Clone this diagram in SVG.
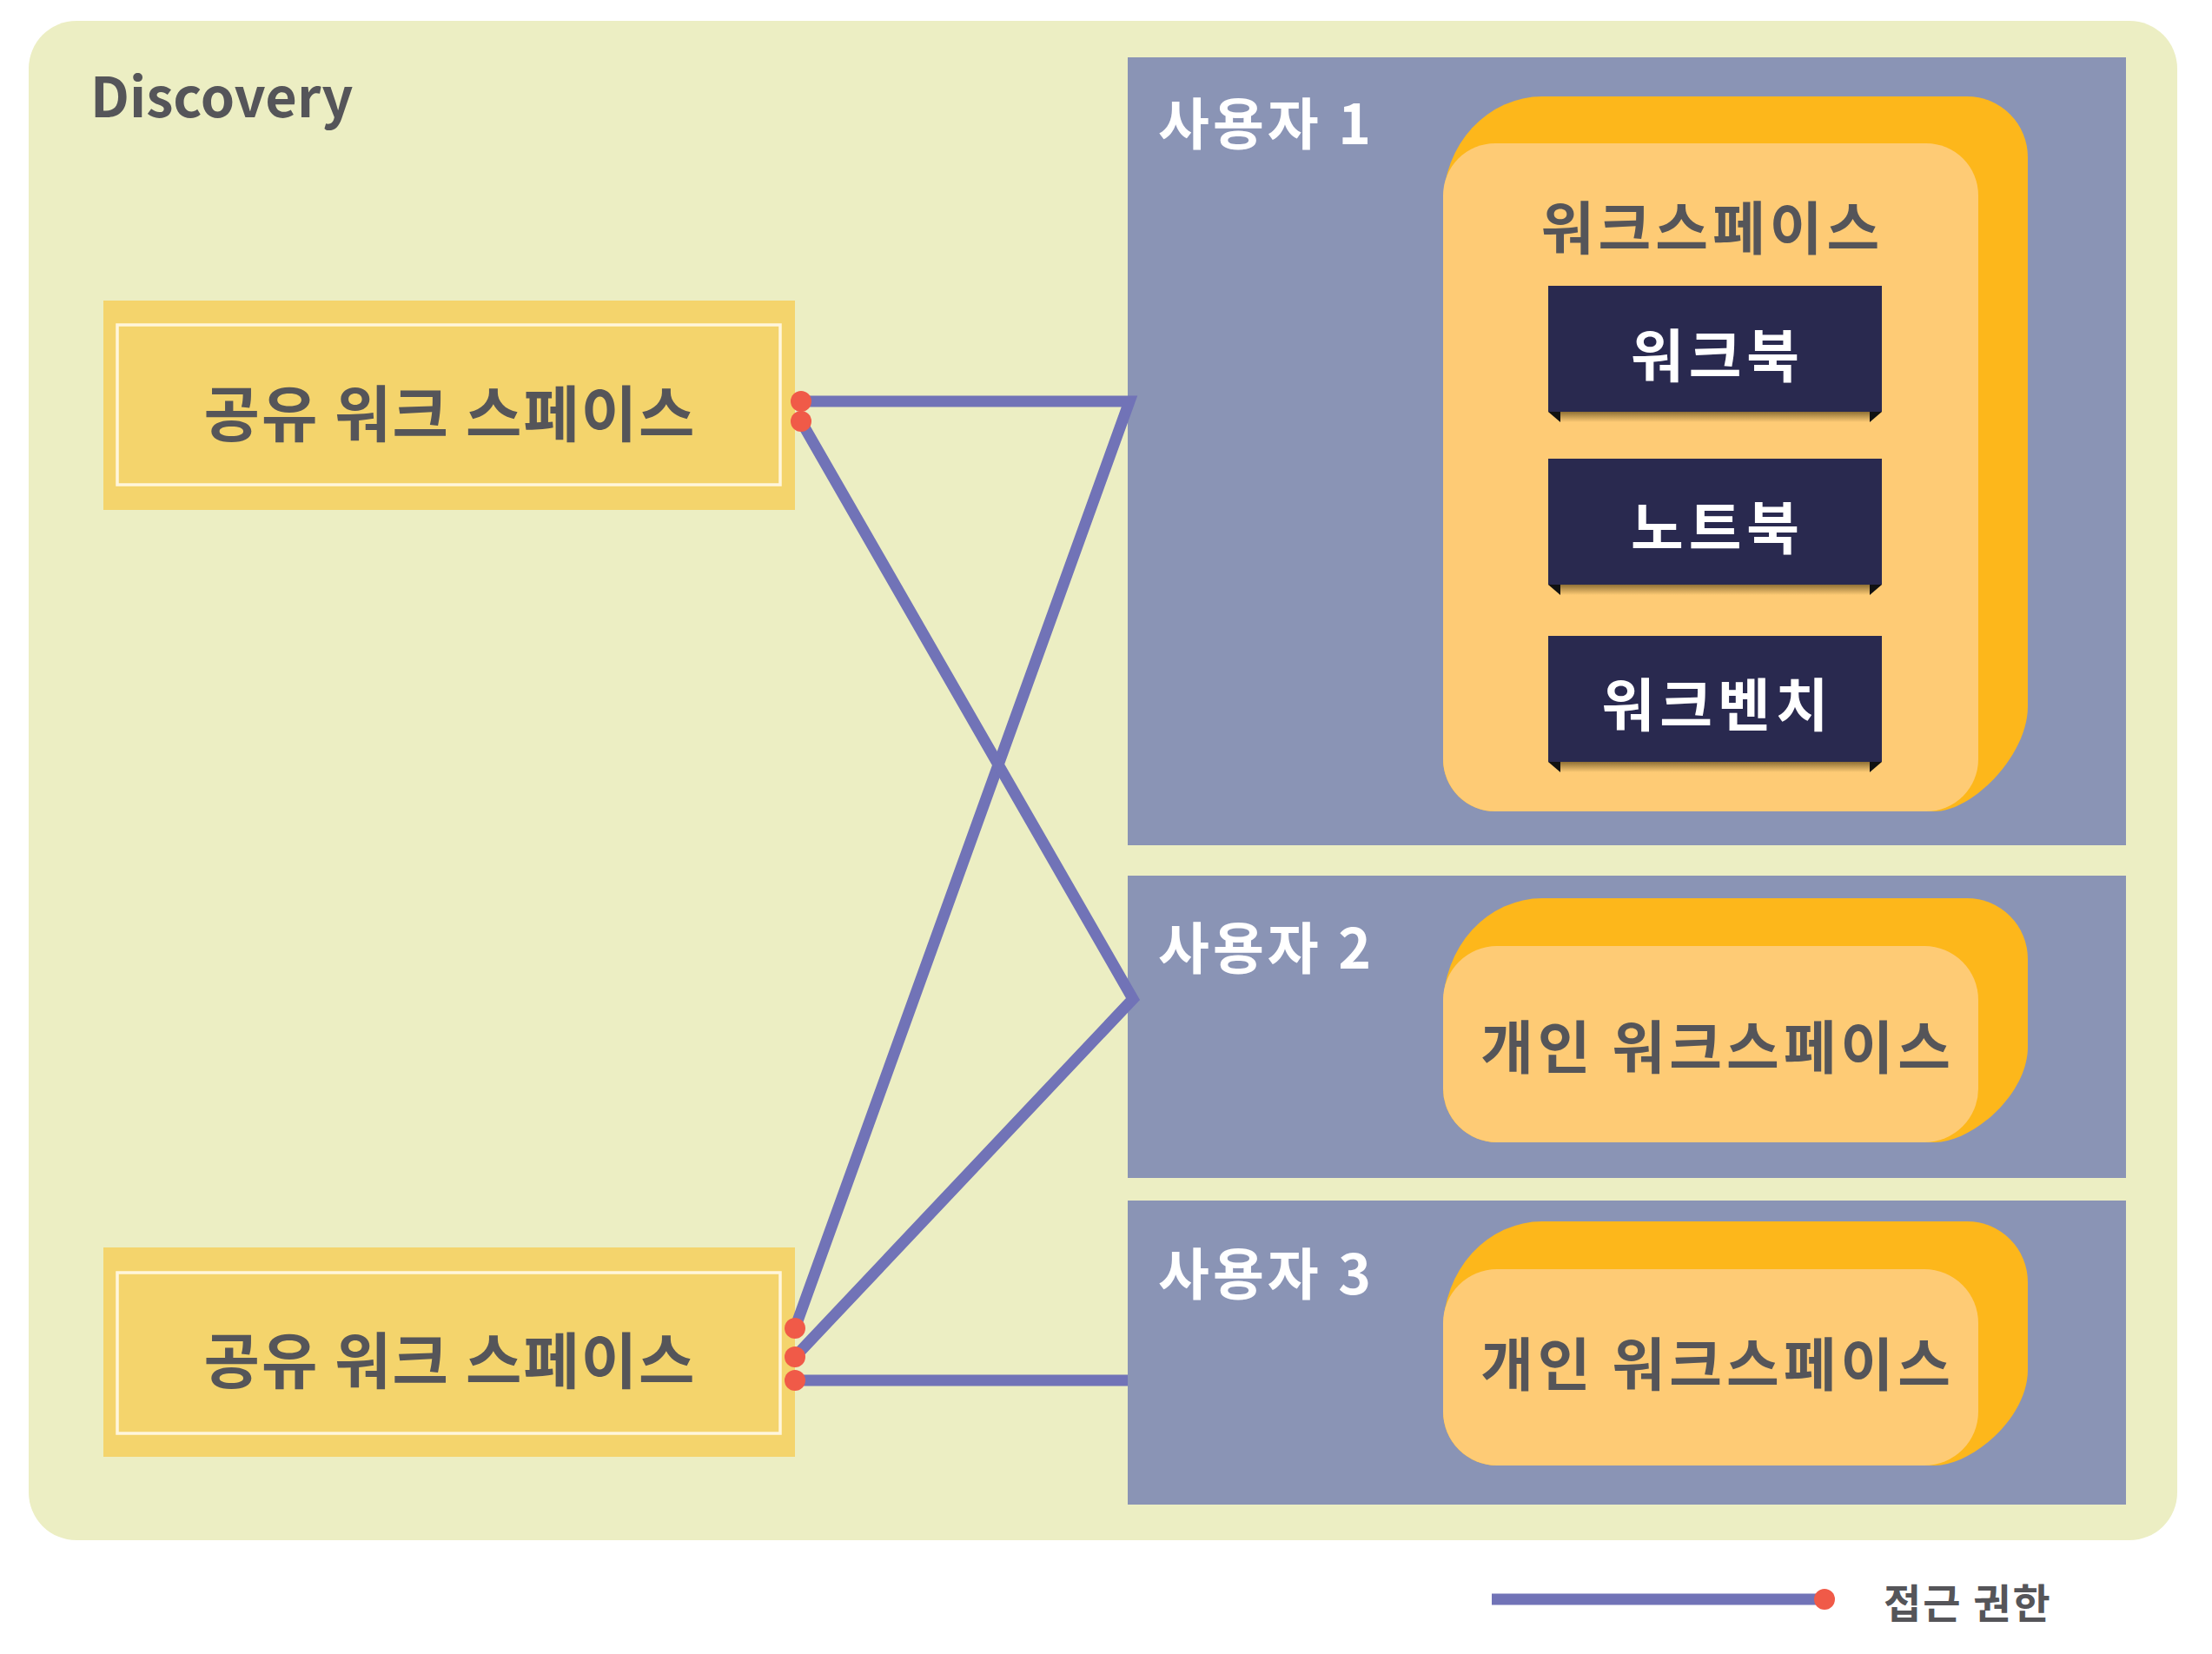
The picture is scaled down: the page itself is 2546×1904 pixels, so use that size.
<svg xmlns="http://www.w3.org/2000/svg" width="2546" height="1904" viewBox="0 0 2546 1904">
<defs>
<linearGradient id="shadow" x1="0" y1="0" x2="0" y2="1">
<stop offset="0" stop-color="#6b5220" stop-opacity="0.75"/>
<stop offset="1" stop-color="#6b5220" stop-opacity="0"/>
</linearGradient>
</defs>
<style>
text{font-family:"Noto Sans CJK KR","Noto Sans",sans-serif;font-weight:700}
.frame{fill:#ECEEC3}
.shared{fill:#F4D46C}
.sharedIn{fill:none;stroke:#FFF6DC;stroke-width:3.5}
.user{fill:#8A94B5}
.back{fill:#FDB71B}
.front{fill:#FECB75}
.dark{fill:#29294F}
.tri{fill:#111111}
.gray{fill:#555559}
.white{fill:#FFFFFF}
.line{fill:none;stroke:#7173B7;stroke-width:13;stroke-linejoin:miter}
.dot{fill:#F05A48}
.st{font-size:70px;letter-spacing:2px}
.ut{font-size:64px;letter-spacing:4px}
.wt{font-size:66px;letter-spacing:6px}
.pt{font-size:66px;letter-spacing:5px}
</style>
<rect width="2546" height="1904" fill="#FFFFFF"/>
<g id="discovery">
<rect class="frame" x="33" y="24" width="2473" height="1749" rx="55"/>
<text class="gray" x="104" y="135" font-size="63">Discovery</text>
</g>
<g id="shared1">
<rect class="shared" x="119" y="346" width="796" height="241"/>
<rect class="sharedIn" x="135" y="374" width="763" height="184"/>
<text class="gray st" x="518" y="503" text-anchor="middle">공유 워크 스페이스</text>
</g>
<g id="shared2">
<rect class="shared" x="119" y="1436" width="796" height="241"/>
<rect class="sharedIn" x="135" y="1465" width="763" height="185"/>
<text class="gray st" x="518" y="1593" text-anchor="middle">공유 워크 스페이스</text>
</g>
<g id="user1">
<rect class="user" x="1298" y="66" width="1149" height="907"/>
<text class="white ut" x="1333" y="166">사용자 1</text>
</g>
<g id="workspace1">
<path class="back" d="M1661,235 A114,124 0 0 1 1775,111 L2264,111 A70,70 0 0 1 2334,181 L2334,813 C2334,870 2270,934 2227,934 L1721,934 A60,60 0 0 1 1661,874 Z"/>
<rect class="front" x="1661" y="165" width="616" height="769" rx="60"/>
<text class="gray" x="1971" y="287" font-size="66" letter-spacing="5" text-anchor="middle">워크스페이스</text>
</g>
<g id="workbook">
<rect x="1796" y="474" width="356" height="12" fill="url(#shadow)"/>
<polygon class="tri" points="1782,474 1796,474 1796,486"/>
<polygon class="tri" points="2166,474 2152,474 2152,486"/>
<rect class="dark" x="1782" y="329" width="384" height="145"/>
<text class="white wt" x="1977" y="434" text-anchor="middle">워크북</text>
</g>
<g id="notebook">
<rect x="1796" y="673" width="356" height="12" fill="url(#shadow)"/>
<polygon class="tri" points="1782,673 1796,673 1796,685"/>
<polygon class="tri" points="2166,673 2152,673 2152,685"/>
<rect class="dark" x="1782" y="528" width="384" height="145"/>
<text class="white wt" x="1977" y="632" text-anchor="middle">노트북</text>
</g>
<g id="workbench">
<rect x="1796" y="877" width="356" height="12" fill="url(#shadow)"/>
<polygon class="tri" points="1782,877 1796,877 1796,889"/>
<polygon class="tri" points="2166,877 2152,877 2152,889"/>
<rect class="dark" x="1782" y="732" width="384" height="145"/>
<text class="white wt" x="1977" y="836" text-anchor="middle">워크벤치</text>
</g>
<g id="user2">
<rect class="user" x="1298" y="1008" width="1149" height="348"/>
<text class="white ut" x="1333" y="1115">사용자 2</text>
</g>
<g id="private2">
<path class="back" d="M1661,1159 A114,125 0 0 1 1775,1034 L2264,1034 A70,70 0 0 1 2334,1104 L2334,1205 C2334,1260 2270,1315 2227,1315 L1723,1315 A62,62 0 0 1 1661,1253 Z"/>
<rect class="front" x="1661" y="1089" width="616" height="226" rx="62"/>
<text class="gray pt" x="1977" y="1230" text-anchor="middle">개인 워크스페이스</text>
</g>
<g id="user3">
<rect class="user" x="1298" y="1382" width="1149" height="350"/>
<text class="white ut" x="1333" y="1490">사용자 3</text>
</g>
<g id="private3">
<path class="back" d="M1661,1531 A114,125 0 0 1 1775,1406 L2264,1406 A70,70 0 0 1 2334,1476 L2334,1577 C2334,1632 2270,1687 2227,1687 L1723,1687 A62,62 0 0 1 1661,1625 Z"/>
<rect class="front" x="1661" y="1461" width="616" height="226" rx="62"/>
<text class="gray pt" x="1977" y="1595" text-anchor="middle">개인 워크스페이스</text>
</g>
<g id="connectors">
<path class="line" d="M922,462 L1300,462 L915,1529"/>
<path class="line" d="M922,485 L1304,1150 L915,1562"/>
<path class="line" d="M915,1589 L1298,1589"/>
<circle class="dot" cx="922" cy="462" r="12"/>
<circle class="dot" cx="922" cy="485" r="12"/>
<circle class="dot" cx="915" cy="1529" r="12"/>
<circle class="dot" cx="915" cy="1562" r="12"/>
<circle class="dot" cx="915" cy="1589" r="12"/>
</g>
<g id="legend">
<line class="line" x1="1717" y1="1841" x2="2100" y2="1841"/>
<circle class="dot" cx="2100" cy="1841" r="12"/>
<text class="gray" x="2168" y="1863" font-size="47" letter-spacing="2">접근 권한</text>
</g>
</svg>
